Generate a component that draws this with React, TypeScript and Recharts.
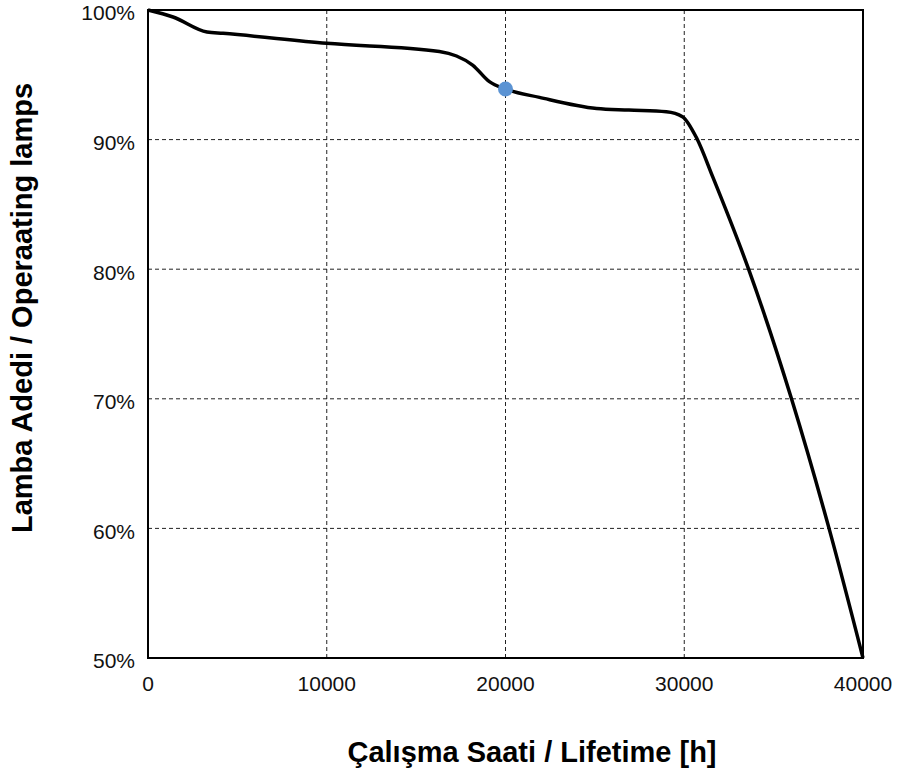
import React from 'react';
import {
  LineChart,
  Line,
  XAxis,
  YAxis,
  CartesianGrid,
  ReferenceArea,
  Scatter,
  Label,
} from 'recharts';

// survival curve
const hours = [
  0, 1400, 3300, 4200, 10000, 16300, 17260, 18160, 19100, 20000, 21900, 25100,
  26900, 29000, 29900, 30700, 31600, 33600, 36000, 38100, 40000,
];
const lampsPct = [
  100, 99.46, 98.3, 98.2, 97.43, 96.8, 96.45, 95.75, 94.47, 93.9, 93.26, 92.4,
  92.28, 92.15, 91.77, 90.1, 87.1, 80, 70, 60, 50,
];

// highlighted point
const markHours = [20000];
const markPct = [93.9];

const xTicks = [0, 10000, 20000, 30000, 40000];
const yTicks = [50, 60, 70, 80, 90, 100];

const xTitle = 'Çalışma Saati / Lifetime [h]';
const yTitle = 'Lamba Adedi / Operaating lamps';

const curve = hours.map((h, i) => ({ h, pct: lampsPct[i] }));
const marks = markHours.map((h, i) => ({ h, pct: markPct[i] }));

const font = '"Liberation Sans", Arial, Helvetica, sans-serif';

export default function App() {
  return (
    <div style={{ position: 'absolute', left: 0, top: 0, background: '#fff' }}>
      <LineChart
        width={900}
        height={773}
        data={curve}
        margin={{ top: 10, right: 37, bottom: 55, left: 48 }}
      >
        <CartesianGrid
          stroke="#222"
          strokeDasharray="4 3"
          strokeWidth={1}
          horizontalValues={yTicks}
          verticalValues={xTicks}
        />
        <XAxis
          type="number"
          dataKey="h"
          domain={[0, 40000]}
          ticks={xTicks}
          height={60}
          axisLine={false}
          tickLine={false}
          tickSize={0}
          tickMargin={18}
          tick={{ fill: '#111', fontSize: 21, fontFamily: font }}
          interval={0}
        >
          <Label
            content={() => (
              <text
                x={532}
                y={762}
                textAnchor="middle"
                fontFamily={font}
                fontWeight="bold"
                fontSize={29}
                fill="#000"
              >
                {xTitle}
              </text>
            )}
          />
        </XAxis>
        <YAxis
          type="number"
          dataKey="pct"
          domain={[50, 100]}
          ticks={yTicks}
          width={100}
          axisLine={false}
          tickLine={false}
          tickSize={0}
          tickMargin={13}
          tickFormatter={(v) => `${v}%`}
          tick={{ fill: '#111', fontSize: 21, fontFamily: font, dy: 3 }}
          interval={0}
        >
          <Label
            content={() => (
              <text
                x={32}
                y={308}
                transform="rotate(-90 32 308)"
                textAnchor="middle"
                fontFamily={font}
                fontWeight="bold"
                fontSize={29}
                fill="#000"
              >
                {yTitle}
              </text>
            )}
          />
        </YAxis>
        <ReferenceArea
          x1={0}
          x2={40000}
          y1={50}
          y2={100}
          fill="none"
          stroke="#000"
          strokeWidth={2}
          ifOverflow="visible"
        />
        <Line
          type="monotone"
          dataKey="pct"
          stroke="#000"
          strokeWidth={3.5}
          dot={false}
          activeDot={false}
          isAnimationActive={false}
        />
        <Scatter
          data={marks}
          dataKey="pct"
          fill="#5B93D3"
          shape={(p: any) => <circle cx={p.cx} cy={p.cy} r={7.5} fill="#5B93D3" />}
          isAnimationActive={false}
        />
      </LineChart>
    </div>
  );
}
